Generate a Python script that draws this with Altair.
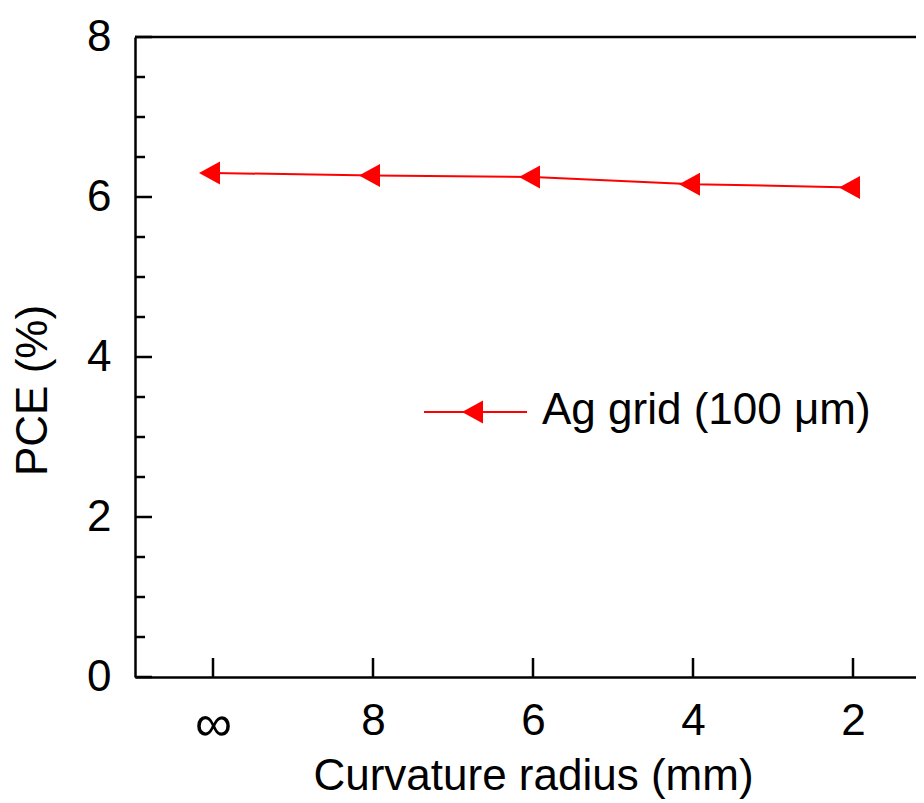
import altair as alt
import pandas as pd

# ---- data ----
categories = ["∞", "8", "6", "4", "2"]
pce = [6.30, 6.27, 6.25, 6.16, 6.12]
series_name = "Ag grid (100 μm)"
y_major = [0, 2, 4, 6, 8]
y_minor = [0.5, 1, 1.5, 2.5, 3, 3.5, 4.5, 5, 5.5, 6.5, 7, 7.5]

# ---- style ----
W, H = 781, 640
RED = "#FF0000"
FONT = "Liberation Sans"
FS = 44
TRI = "M-1,0L0.5,-0.82L0.5,0.82Z"

df = pd.DataFrame({"radius": categories, "pce": pce, "series": [series_name] * len(categories)})
major_df = pd.DataFrame({"pce": y_major})
minor_df = pd.DataFrame({"pce": y_minor})
leg_df = pd.DataFrame({"series": [series_name]})

x_scale = alt.Scale(type="point", domain=categories, padding=0.440625, align=0.55319)
y_scale = alt.Scale(domain=[0, 8], nice=False, zero=True)

x_axis = alt.Axis(
    title="Curvature radius (mm)", labelAngle=0, ticks=False, tickSize=0,
    labelPadding=22,
    labelFontSize={"condition": {"test": "datum.value === '∞'", "value": 52}, "value": FS},
    titleFontSize=FS, titleFontWeight="normal",
    titleX=398, titleY=112, titleBaseline="alphabetic", titleAlign="center",
    domainColor="black", domainWidth=2.5, grid=False, labelColor="black",
    titleColor="black", labelFont=FONT, titleFont=FONT,
)
y_axis = alt.Axis(
    title="PCE (%)", values=y_major, format="d", ticks=False, tickSize=0,
    labelPadding=24, labelFontSize=FS, titleFontSize=FS, titleFontWeight="normal",
    titleX=-89, titleY=353, titleAngle=270, titleBaseline="alphabetic", titleAlign="center",
    domainColor="black", domainWidth=2.5, grid=False, labelColor="black",
    titleColor="black", labelFont=FONT, titleFont=FONT,
)

X = alt.X("radius:N", scale=x_scale, sort=categories, axis=x_axis)
Y = alt.Y("pce:Q", scale=y_scale, axis=y_axis)

line = alt.Chart(df).mark_line(color=RED, strokeWidth=2).encode(x=X, y=Y)
points = alt.Chart(df).mark_point(shape=TRI, filled=True, size=784, color=RED, opacity=1).encode(x=X, y=Y)

y_major_ticks = alt.Chart(major_df).mark_rule(color="black", strokeWidth=2.5).encode(
    y=Y, x=alt.value(0), x2=alt.value(17)
)
y_minor_ticks = alt.Chart(minor_df).mark_rule(color="black", strokeWidth=2.5).encode(
    y=Y, x=alt.value(0), x2=alt.value(10)
)
x_ticks = alt.Chart(df).mark_rule(color="black", strokeWidth=2.5).encode(
    x=X, y=alt.value(H), y2=alt.value(H - 19),
)
top_border = alt.Chart(leg_df).mark_rule(color="black", strokeWidth=2.5).encode(
    x=alt.value(0), x2=alt.value(W), y=alt.value(0)
)

# legend (line + marker + label)
leg_line = alt.Chart(leg_df).mark_rule(color=RED, strokeWidth=2).encode(
    x=alt.value(289), x2=alt.value(392), y=alt.value(375)
)
leg_pt = alt.Chart(leg_df).mark_point(shape=TRI, filled=True, size=784, color=RED, opacity=1).encode(
    x=alt.value(341), y=alt.value(375)
)
leg_text = alt.Chart(leg_df).mark_text(
    align="left", baseline="alphabetic", fontSize=FS, font=FONT, color="black"
).encode(x=alt.value(407), y=alt.value(387), text="series:N")

chart = alt.layer(
    line, points, y_major_ticks, y_minor_ticks, x_ticks, top_border,
    leg_line, leg_pt, leg_text,
).properties(
    width=W, height=H,
    autosize=alt.AutoSizeParams(type="none"),
    padding={"left": 127, "top": 29, "right": 0, "bottom": 124},
    background="white",
).configure_view(stroke=None)

chart.save("out.html", embed_options={"renderer": "svg", "actions": False})
